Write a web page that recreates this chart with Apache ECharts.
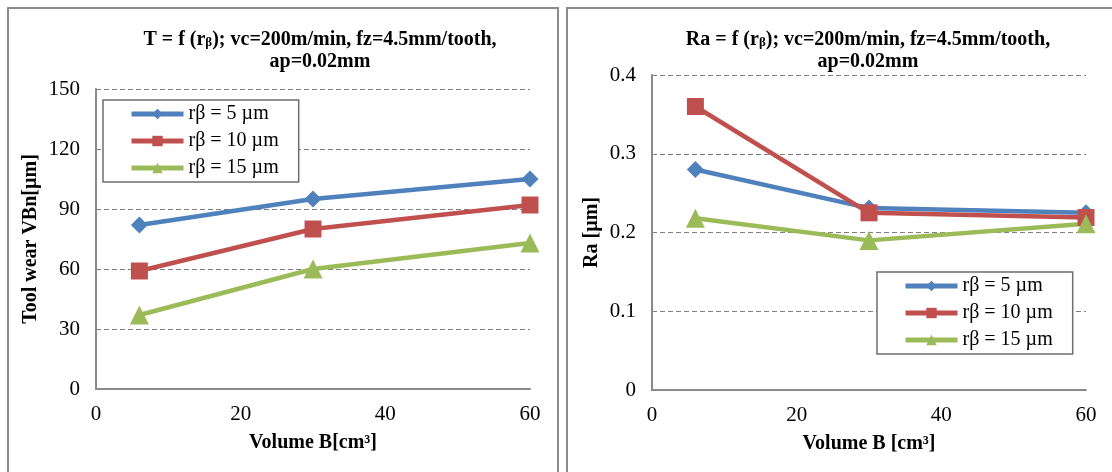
<!DOCTYPE html>
<html>
<head>
<meta charset="utf-8">
<script src="https://cdn.jsdelivr.net/npm/echarts@6/dist/echarts.min.js"></script>
<style>
  html, body { margin: 0; padding: 0; background: #fff; }
  #chart { width: 1112px; height: 472px; }
</style>
</head>
<body>
<div id="chart"></div>
<script>
// data
const volume = [6, 30, 60];
const seriesNames = ['rβ = 5 µm', 'rβ = 10 µm', 'rβ = 15 µm'];
const wear5 = [82, 95, 105];
const wear10 = [59, 80, 92];
const wear15 = [37, 60, 73];
const ra5 = [0.28, 0.231, 0.225];
const ra10 = [0.36, 0.225, 0.219];
const ra15 = [0.218, 0.19, 0.211];

const colors = ['#4F81BD', '#C0504D', '#9BBB59'];
const symbols = ['diamond', 'rect', 'triangle'];
const symbolSizes = [17, 17, 19];
const font = 'Liberation Serif, Times New Roman, serif';

const chart = echarts.init(document.getElementById('chart'));

function pairs(ys) {
  return volume.map((x, i) => [x, ys[i]]);
}

function makeSeries(values, idx) {
  return values.map((ys, i) => ({
    name: seriesNames[i],
    type: 'line',
    xAxisIndex: idx,
    yAxisIndex: idx,
    data: pairs(ys),
    symbol: symbols[i],
    symbolSize: symbolSizes[i],
    color: colors[i],
    lineStyle: { width: 4.5, color: colors[i] },
    itemStyle: { color: colors[i] },
    animation: false
  }));
}

function titleText(prefix) {
  return '{a|' + prefix + ' = f (r}{s|β}{a|); vc=200m/min, fz=4.5mm/tooth,}\n{a|ap=0.02mm}';
}

const titleRich = {
  a: { fontFamily: font, fontWeight: 'bold', fontSize: 20, color: '#000', lineHeight: 22 },
  s: { fontFamily: font, fontWeight: 'bold', fontSize: 13, color: '#000', padding: [0, 0, -5, 0], lineHeight: 22 }
};

function xAxis(idx, name) {
  return {
    type: 'value', gridIndex: idx, min: 0, max: 60, interval: 20,
    axisLine: { show: true, lineStyle: { color: '#8a8a8a', width: 2 } },
    axisTick: { show: false },
    splitLine: { show: false },
    axisLabel: { color: '#000', fontFamily: font, fontSize: 21, margin: 15 },
    name: name, nameLocation: 'middle', nameGap: 44,
    nameTextStyle: { color: '#000', fontFamily: font, fontWeight: 'bold', fontSize: 20 }
  };
}

function yAxis(idx, max, interval, name, gap) {
  return {
    type: 'value', gridIndex: idx, min: 0, max: max, interval: interval,
    axisLine: { show: true, lineStyle: { color: '#8a8a8a', width: 2 } },
    axisTick: { show: false },
    splitLine: { show: true, lineStyle: { color: '#7f7f7f', type: [5, 3], width: 1.2 } },
    axisLabel: { color: '#000', fontFamily: font, fontSize: 21, margin: 16 },
    name: name, nameLocation: 'middle', nameGap: gap,
    nameTextStyle: { color: '#000', fontFamily: font, fontWeight: 'bold', fontSize: 20 }
  };
}

function legend(left, top) {
  return {
    data: seriesNames,
    orient: 'vertical',
    left: left, top: top,
    itemWidth: 52, itemHeight: 13, itemGap: 7,
    padding: [4, 20, 4, 26],
    backgroundColor: '#fff',
    borderColor: '#6e6e6e', borderWidth: 1.5,
    lineStyle: { width: 5 },
    textStyle: { color: '#000', fontFamily: font, fontSize: 20 },
    selectedMode: false
  };
}

const option = {
  backgroundColor: '#fff',
  animation: false,
  graphic: [
    { type: 'rect', shape: { x: 8, y: 8, width: 550, height: 480 }, style: { fill: 'none', stroke: '#8c8c8c', lineWidth: 2 }, silent: true },
    { type: 'rect', shape: { x: 567, y: 8, width: 560, height: 480 }, style: { fill: 'none', stroke: '#8c8c8c', lineWidth: 2 }, silent: true }
  ],
  title: [
    { text: titleText('T'), left: 315, top: 24, textAlign: 'center', textStyle: { rich: titleRich } },
    { text: titleText('Ra'), left: 863, top: 24, textAlign: 'center', textStyle: { rich: titleRich } }
  ],
  legend: [legend(103, 100), legend(877, 272)],
  grid: [
    { left: 96, top: 89, width: 434, height: 300 },
    { left: 652, top: 75, width: 434, height: 315 }
  ],
  xAxis: [xAxis(0, 'Volume B[cm³]'), xAxis(1, 'Volume B [cm³]')],
  yAxis: [yAxis(0, 150, 30, 'Tool wear VBn[µm]', 55), yAxis(1, 0.4, 0.1, 'Ra [µm]', 50)],
  series: [
    ...makeSeries([wear5, wear10, wear15], 0),
    ...makeSeries([ra5, ra10, ra15], 1)
  ]
};

chart.setOption(option);
</script>
</body>
</html>
